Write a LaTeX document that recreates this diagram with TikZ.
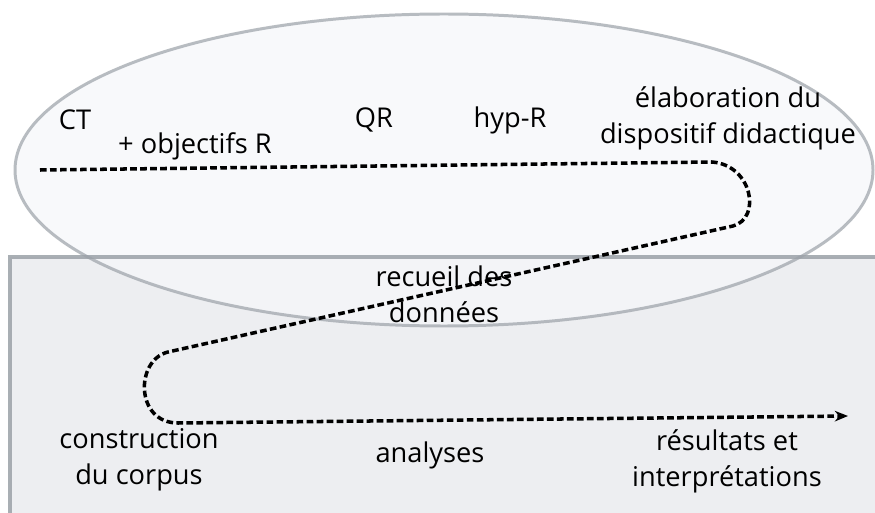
\documentclass[tikz,border=0pt]{standalone}
\usepackage{fontspec}
\setmainfont{Open Sans}
\usetikzlibrary{arrows.meta}
\definecolor{edgegray}{RGB}{155,161,168}
\definecolor{ellfill}{RGB}{246,247,250}
\definecolor{boxfill}{RGB}{237,238,241}
\tikzset{
  lbl/.style={align=center,inner sep=0pt,font=\fontsize{15.5}{20.5}\selectfont},
  flow/.style={line width=2pt,dash pattern=on 3.8pt off 1.9pt,-{Stealth[length=7.5pt,width=6pt]}}
}
\begin{document}
\begin{tikzpicture}[x=0.02cm,y=-0.02cm]
            \useasboundingbox (0,0) rectangle (875,513);
            \clip (0,0) rectangle (875,513);
            \fill[white] (0,0) rectangle (875,513);
            \fill[boxfill] (10,257) rectangle (890,530);
            \fill[ellfill,fill opacity=0.7] (444,170) ellipse [x radius=429,y radius=156];
            \draw[edgegray,line width=2pt,opacity=0.85] (10,530) -- (10,257) -- (890,257);
            \draw[edgegray,line width=1.7pt,opacity=0.7] (444,170) ellipse [x radius=429,y radius=156];
            \path (75,120) node[lbl] (ct) {CT};
            \path (195,146) node[lbl] (objR) {+ objectifs R};
            \path (374,120) node[lbl] (qr) {QR};
            \path (510,120) node[lbl] (hypR) {hyp-R};
            \path (728,118) node[lbl] (elab) {élaboration du\\dispositif didactique};
            \path (444,294) node[lbl] (recueil) {recueil des\\données};
            \path (139,460) node[lbl] (corpus) {construction\\du corpus};
            \path (430,455) node[lbl] (analyses) {analyses};
            \path (727,461) node[lbl] (resultats) {résultats et\\interprétations};
            \path (40,170) coordinate (d0) (712,162) coordinate (d1) (733,226) coordinate (d2)
                  (168,352) coordinate (d3) (178,423) coordinate (d4) (848,416) coordinate (d5);
            \draw[flow] (d0) -- (d1) .. controls (752,165) and (762,218) .. (d2) -- (d3)
                  .. controls (135,360) and (135,423) .. (d4) -- (d5);
        \end{tikzpicture}
\end{document}
